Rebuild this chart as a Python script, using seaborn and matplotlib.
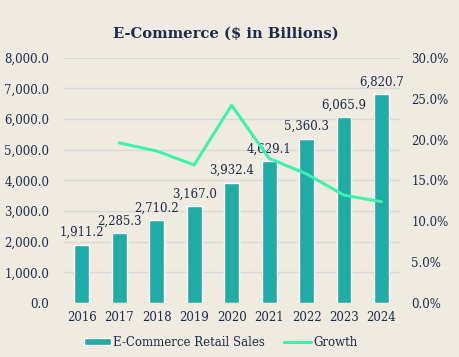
import matplotlib
matplotlib.use("Agg")
import matplotlib.pyplot as plt
import matplotlib.ticker as mticker
import seaborn as sns
import pandas as pd

years = ["2016", "2017", "2018", "2019", "2020", "2021", "2022", "2023", "2024"]
sales = [1911.2, 2285.3, 2710.2, 3167.0, 3932.4, 4629.1, 5360.3, 6065.9, 6820.7]
growth = [None, 19.6, 18.6, 16.9, 24.2, 17.7, 15.8, 13.2, 12.4]

BG = "#EFEBE1"
NAVY = "#1C2B4A"
BAR = "#20ABA4"
LINE = "#3DF2AE"

sns.set_theme(style="white")
plt.rcParams["font.family"] = ["DejaVu Serif"]

df = pd.DataFrame({"year": years, "sales": sales, "growth": growth})

fig = plt.figure(figsize=(4.6, 3.57), dpi=100, facecolor=BG)
ax = fig.add_axes([0.137, 0.151, 0.733, 0.687])
ax.set_facecolor(BG)

sns.barplot(data=df, x="year", y="sales", color=BAR, width=0.4, ax=ax,
            saturation=1, label="E-Commerce Retail Sales", zorder=2)
ax.set_ylim(0, 8000)
ax.yaxis.set_major_locator(mticker.MultipleLocator(1000))
ax.yaxis.set_major_formatter(mticker.FuncFormatter(lambda v, p: f"{v:,.1f}"))
ax.grid(axis="y", color="#D8D8D6", linewidth=1, zorder=0)
ax.set_axisbelow(True)
for s in ax.spines.values():
    s.set_visible(False)
ax.set_xlabel("")
ax.set_ylabel("")
ax.tick_params(axis="both", length=0, colors=NAVY, labelsize=8.5)
ax.tick_params(axis="x", pad=6)
ax.tick_params(axis="y", pad=10)

for i, v in enumerate(sales):
    ax.annotate(f"{v:,.1f}", (i, v), xytext=(0, 4), textcoords="offset points",
                ha="center", va="bottom", fontsize=8.5, color=NAVY)

ax2 = ax.twinx()
gdf = df.dropna()
sns.lineplot(x=list(gdf.index), y=gdf["growth"], color=LINE, linewidth=2.2,
             ax=ax2, label="Growth")
ax2.set_ylim(0, 30)
ax2.yaxis.set_major_locator(mticker.MultipleLocator(5))
ax2.yaxis.set_major_formatter(mticker.FuncFormatter(lambda v, p: f"{v:.1f}%"))
for s in ax2.spines.values():
    s.set_visible(False)
ax2.set_ylabel("")
ax2.tick_params(axis="y", length=0, colors=NAVY, labelsize=8.5, pad=8)
ax2.grid(False)
ax.set_xlim(-0.5, 8.5)

h1, l1 = ax.get_legend_handles_labels()
h2, l2 = ax2.get_legend_handles_labels()
if ax.get_legend():
    ax.get_legend().remove()
if ax2.get_legend():
    ax2.get_legend().remove()
fig.legend(h1 + h2, l1 + l2, loc="center", bbox_to_anchor=(0.48, 0.042), ncol=2,
           frameon=False, fontsize=8.5, labelcolor=NAVY, handlelength=2.3,
           handleheight=0.55, columnspacing=1.6, handletextpad=0.2)

fig.text(0.49, 0.905, "E-Commerce ($ in Billions)", ha="center", va="center",
         fontsize=10.6, fontweight="bold", color=NAVY)

fig.savefig("out.png", dpi=100, facecolor=BG)
